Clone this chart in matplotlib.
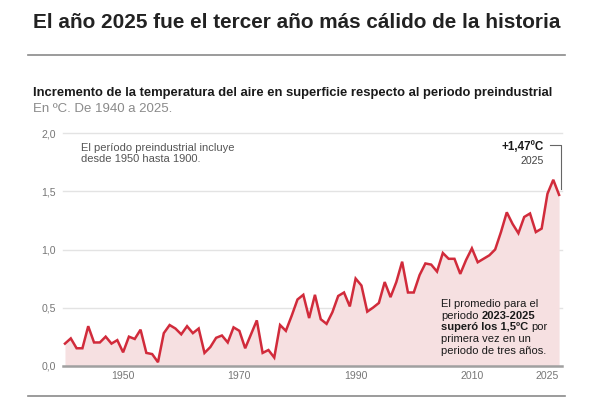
import matplotlib
matplotlib.use('Agg')
import matplotlib.pyplot as plt
from matplotlib.lines import Line2D
import numpy as np

plt.rcParams['font.family'] = ['Liberation Sans', 'DejaVu Sans']

# ---------------- data ----------------
years = list(range(1940, 2026))
values = [
    0.19, 0.235, 0.15, 0.15, 0.34, 0.20, 0.20, 0.25, 0.19, 0.22,      # 1940-1949
    0.115, 0.25, 0.23, 0.31, 0.11, 0.10, 0.03, 0.28, 0.35, 0.32,      # 1950-1959
    0.27, 0.34, 0.28, 0.32, 0.11, 0.16, 0.24, 0.26, 0.20, 0.33,       # 1960-1969
    0.30, 0.15, 0.27, 0.39, 0.11, 0.135, 0.07, 0.35, 0.30, 0.43,      # 1970-1979
    0.57, 0.61, 0.41, 0.61, 0.40, 0.36, 0.46, 0.60, 0.63, 0.51,       # 1980-1989
    0.75, 0.69, 0.465, 0.50, 0.54, 0.72, 0.59, 0.72, 0.895, 0.63,     # 1990-1999
    0.63, 0.78, 0.88, 0.87, 0.81, 0.97, 0.92, 0.92, 0.79, 0.91,       # 2000-2009
    1.01, 0.89, 0.92, 0.95, 1.00, 1.15, 1.32, 1.22, 1.14, 1.28,       # 2010-2019
    1.31, 1.15, 1.18, 1.48, 1.60, 1.47,                               # 2020-2025
]
yticks = [0.0, 0.5, 1.0, 1.5, 2.0]
ytick_labels = ["0,0", "0,5", "1,0", "1,5", "2,0"]
xticks = [1950, 1970, 1990, 2010, 2025]
xtick_labels = ["1950", "1970", "1990", "2010", "2025"]

title = "El año 2025 fue el tercer año más cálido de la historia"
subtitle = "Incremento de la temperatura del aire en superficie respecto al periodo preindustrial"
subsub = "En ºC. De 1940 a 2025."
note_left = ["El período preindustrial incluye", "desde 1950 hasta 1900."]
last_label = "+1,47ºC"
last_year = "2025"
note_right = [
    [("El promedio para el", "normal")],
    [("periodo ", "normal"), ("2023-2025", "bold")],
    [("superó los 1,5ºC", "bold"), (" por", "normal")],
    [("primera vez en un", "normal")],
    [("periodo de tres años.", "normal")],
]

LINE = '#d12b3b'
FILL = '#f6e0e1'

# ---------------- figure ----------------
W, H = 600, 400
fig = plt.figure(figsize=(6, 4), dpi=100)
fig.patch.set_facecolor('white')


def fx(x):
    return x / W


def fy(y):
    return 1 - y / H


renderer = fig.canvas.get_renderer()


def fit_width(t, target):
    w = t.get_window_extent(renderer).width
    t.set_fontsize(t.get_fontsize() * target / w)


ax = fig.add_axes([fx(63), fy(365.7), (562 - 63) / W, (365.7 - 133.3) / H])
ax.set_facecolor('none')
ax.fill_between(years, values, 0, color=FILL, lw=0, zorder=1)
ax.plot(years, values, color=LINE, lw=1.8, zorder=3, solid_joinstyle='miter')
ax.set_xlim(1939.66, 2025.5)
ax.set_ylim(0, 2.0)
for s in ax.spines.values():
    s.set_visible(False)
for yv in yticks[1:]:
    ax.axhline(yv, color='#e3e3e3', lw=1.0, zorder=0, clip_on=False)
ax.axhline(0, color='#a0a0a0', lw=1.8, zorder=4, clip_on=False)
ax.set_yticks(yticks)
ax.set_yticklabels(ytick_labels)
ax.set_xticks(xticks)
ax.set_xticklabels(xtick_labels)
ax.tick_params(length=0, labelsize=7.6, colors='#777777')
ax.tick_params(axis='y', pad=5)
ax.tick_params(axis='x', pad=4)
ax.get_xticklabels()[-1].set_horizontalalignment('right')

# ---------------- header ----------------
t = fig.text(fx(33), fy(28), title, fontsize=15, weight='bold', color='#222222', va='baseline')
fit_width(t, 529)
fig.add_artist(Line2D([fx(28), fx(565)], [fy(55), fy(55)], color='#8a8a8a', lw=1.2))
s = fig.text(fx(33), fy(96), subtitle, fontsize=8, weight='bold', color='#1a1a1a', va='baseline')
fit_width(s, 524)
ss = fig.text(fx(33), fy(112), subsub, fontsize=8.5, color='#8a8a8a', va='baseline')
fit_width(ss, 140)
fig.add_artist(Line2D([fx(28), fx(565)], [fy(396), fy(396)], color='#8a8a8a', lw=1.2))

# ---------------- annotations ----------------
fig.text(fx(81), fy(151), note_left[0], fontsize=8.0, color='#555555', va='baseline')
fig.text(fx(81), fy(162), note_left[1], fontsize=8.0, color='#555555', va='baseline')

fig.text(fx(544), fy(150), last_label, fontsize=8.4, weight='bold', color='#1a1a1a',
         va='baseline', ha='right')
fig.text(fx(544), fy(164), last_year, fontsize=7.6, color='#444444', va='baseline', ha='right')
x_end = years[-1] + 0.25
ax.plot([years[-1] - 1.5, x_end, x_end], [1.90, 1.90, values[-1] + 0.05],
        color='#666666', lw=0.8, clip_on=False, zorder=5)

# mixed-weight note
fs = 8.0
probe_a = fig.text(0, 0, "aa", fontsize=fs)
probe_b = fig.text(0, 0, "a a", fontsize=fs)
space_w = probe_b.get_window_extent(renderer).width - probe_a.get_window_extent(renderer).width
probe_a.remove()
probe_b.remove()
y0 = 307
for i, runs in enumerate(note_right):
    x = 441.0
    for text, weight in runs:
        lead = len(text) - len(text.lstrip(' '))
        x += lead * space_w
        core = text.strip(' ')
        tt = fig.text(fx(x), fy(y0 + i * 11.7), core, fontsize=fs, weight=weight,
                      color='#1a1a1a', va='baseline')
        x += tt.get_window_extent(renderer).width
        trail = len(text) - len(text.rstrip(' '))
        x += trail * space_w

fig.savefig('out.png', dpi=100)
